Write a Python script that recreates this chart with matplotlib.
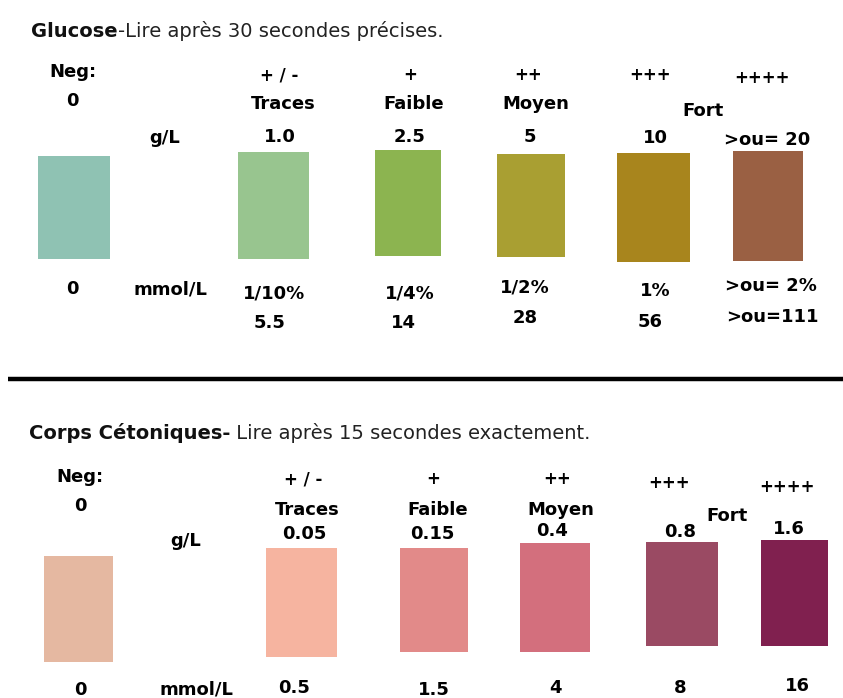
import matplotlib
matplotlib.use("Agg")
from matplotlib import pyplot as plt

# DATA

glucose_levels = ["Neg:", "+ / -", "+", "++", "+++", "++++"]
glucose_names = ["0", "Traces", "Faible", "Moyen", "Fort"]
glucose_gl = ["1.0", "2.5", "5", "10", ">ou= 20"]
glucose_pct = ["0", "1/10%", "1/4%", "1/2%", "1%", ">ou= 2%"]
glucose_mmol = ["5.5", "14", "28", "56", ">ou=111"]
glucose_colors = ["#8fc2b3", "#98c58f", "#8cb450", "#a99f32", "#a8851d", "#9a6043"]

ketone_levels = ["Neg:", "+ / -", "+", "++", "+++", "++++"]
ketone_names = ["0", "Traces", "Faible", "Moyen", "Fort"]
ketone_gl = ["0.05", "0.15", "0.4", "0.8", "1.6"]
ketone_mmol = ["0", "0.5", "1.5", "4", "8", "16"]
ketone_colors = ["#e5b8a1", "#f6b4a0", "#e28a89", "#d36f7d", "#9a4a63", "#80204f"]

# LAYOUT (pixels, y down)

g_box_x = [(38, 110), (238, 309), (375, 441), (497, 565), (617, 690), (733, 803)]
g_box_y = [(156, 259), (152, 259), (150, 256), (154, 257), (153, 262), (151, 261)]
g_level_xy = [(73, 72), (279, 75), (410, 75), (528, 75), (650, 75), (762, 78)]
g_name_xy = [(72, 101), (283, 104), (414, 104), (536, 104), (703, 111)]
g_gl_xy = [(280, 137), (410, 137), (530, 137), (655, 138), (767, 140)]
g_pct_xy = [(72, 289), (274, 293), (410, 293), (525, 287), (655, 291), (771, 286)]
g_mmol_xy = [(270, 323), (403, 323), (525, 318), (650, 322), (772, 317)]

k_box_x = [(44, 113), (266, 337), (400, 468), (520, 590), (646, 718), (761, 828)]
k_box_y = [(556, 662), (548, 657), (548, 652), (543, 652), (542, 646), (540, 646)]
k_level_xy = [(80, 477), (303, 479), (433, 479), (557, 479), (669, 483), (787, 487)]
k_name_xy = [(80, 506), (307, 510), (438, 510), (561, 510), (727, 516)]
k_gl_xy = [(304, 534), (432, 534), (552, 531), (680, 532), (789, 529)]
k_mmol_xy = [(80, 690), (294, 688), (434, 690), (555, 688), (680, 688), (797, 686)]

LABEL_FONT = ["DejaVu Sans"]
TITLE_FONT = ["DejaVu Sans"]
LBL = dict(fontsize=13, fontweight="bold", family=LABEL_FONT, ha="center", va="center", color="black")
SIGN = dict(LBL, fontsize=12)

fig = plt.figure(figsize=(8.43, 6.98), dpi=100)
ax = fig.add_axes([0, 0, 1, 1])
ax.set_xlim(0, 843)
ax.set_ylim(698, 0)
ax.axis("off")


def swatches(box_x, box_y, colors):
    lefts = [a for a, b in box_x]
    widths = [b - a for a, b in box_x]
    bottoms = [a for a, b in box_y]
    heights = [b - a for a, b in box_y]
    ax.bar(lefts, heights, width=widths, bottom=bottoms, align="edge", color=colors, linewidth=0)


def labels(texts, xy, style=LBL):
    for t, (x, y) in zip(texts, xy):
        ax.text(x, y, t, **(LBL if t.startswith("Neg") else style))


def title(x, y, bold, rest):
    t = ax.text(x, y, bold, fontsize=14, fontweight="bold", family=TITLE_FONT, va="baseline", color="#111111")
    ax.annotate(rest, xy=(1, 0), xycoords=t, va="bottom", ha="left",
                fontsize=14, family=TITLE_FONT, color="#222222")


# Glucose
title(31, 37, "Glucose", "-Lire après 30 secondes précises.")
swatches(g_box_x, g_box_y, glucose_colors)
labels(glucose_levels, g_level_xy, SIGN)
labels(glucose_names, g_name_xy)
labels(glucose_gl, g_gl_xy)
labels(glucose_pct, g_pct_xy)
labels(glucose_mmol, g_mmol_xy)
ax.text(165, 138, "g/L", **LBL)
ax.text(170, 290, "mmol/L", **LBL)

# separator
ax.plot([8, 843], [379, 379], color="black", linewidth=3.2, solid_capstyle="butt")

# Ketones
title(29, 439, "Corps Cétoniques-", " Lire après 15 secondes exactement.")
swatches(k_box_x, k_box_y, ketone_colors)
labels(ketone_levels, k_level_xy, SIGN)
labels(ketone_names, k_name_xy)
labels(ketone_gl, k_gl_xy)
labels(ketone_mmol, k_mmol_xy)
ax.text(186, 541, "g/L", **LBL)
ax.text(196, 690, "mmol/L", **LBL)

fig.savefig("out.png", dpi=100, facecolor="white")
